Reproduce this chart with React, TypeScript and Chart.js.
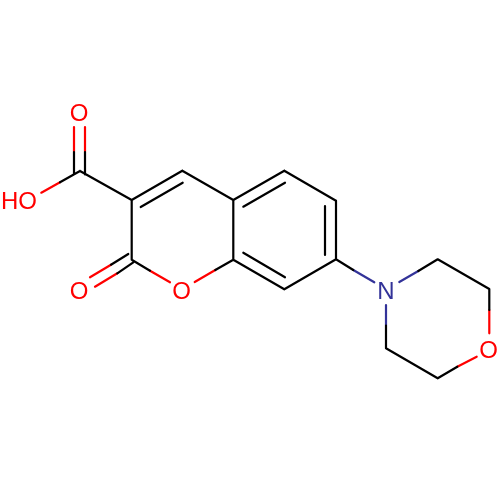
import { useEffect, useRef } from 'react';
import { Chart, registerables } from 'chart.js';
import type { Plugin } from 'chart.js';

Chart.register(...registerables);

// bonds as [x1, y1, x2, y2], split by the colour of each half
const blackBonds = [
  [74, 174.5, 74, 152], [85, 174.5, 85, 152],
  [80, 171, 60, 182.3], [80, 171, 131.7, 200],
  [131.7, 200, 182.3, 170.7], [140.7, 207, 182.7, 182.7],
  [182.3, 170.7, 233.3, 200], [131.7, 200, 131.7, 259.7],
  [128.3, 254, 111, 264.7], [133.3, 262.3, 117.3, 273.3],
  [131.7, 259.7, 150, 270.7], [215.3, 270, 233.3, 259.7],
  [233.3, 200, 233.3, 259.7],
  [233.3, 200, 284.3, 170.7], [243.3, 206.7, 285, 182.7],
  [284.3, 170.7, 336, 200.7],
  [336, 200.7, 336, 259.3], [325, 206, 325, 255],
  [336, 259.3, 284.3, 289.3],
  [284.3, 289.3, 233.3, 259.7], [285, 277.3, 243.3, 252.7],
  [336, 259.3, 353.3, 270],
  [418.3, 271, 437.7, 259.3], [437.7, 259.3, 489.3, 289], [489.3, 289, 489.3, 310],
  [457.3, 366.7, 437.7, 378.3], [437.7, 378.3, 386, 348.3], [386, 348.3, 386, 325.7],
];
const redBonds = [
  [74, 152, 74, 127], [85, 152, 85, 127],
  [60, 182.3, 41.3, 192.7],
  [111, 264.7, 90, 277.3], [117.3, 273.3, 95, 286.7],
  [150, 270.7, 170, 282.3], [194.7, 282, 215.3, 270],
  [489.3, 310, 489.3, 333.3], [476.7, 356.7, 457.3, 366.7],
];
const blueBonds = [
  [353.3, 270, 374.3, 282.3], [399.3, 282, 418.3, 271], [386, 325.7, 386, 305],
];

const atomLabels = ['O', 'HO', 'O', 'O', 'N', 'O'];
const atomX = [79, 19, 79, 181.7, 386, 488.7];
const atomY = [112.7, 200.7, 290, 290, 290, 349];
const atomColors = ['#ff0000', '#ff0000', '#ff0000', '#ff0000', '#333399', '#ff0000'];

const toPoints = (bonds: number[][]) =>
  bonds.flatMap(([x1, y1, x2, y2]) => [
    { x: x1, y: y1 },
    { x: x2, y: y2 },
    { x: x2, y: null },
  ]);

const bondDataset = (bonds: number[][], color: string) => ({
  data: toPoints(bonds),
  showLine: true,
  spanGaps: false,
  borderColor: color,
  borderWidth: 2.2,
  borderCapStyle: 'round' as const,
  pointRadius: 0,
});

// atom symbols are placed through the chart's scales
const atomLabelPlugin: Plugin<'scatter'> = {
  id: 'atomLabels',
  afterDraw(chart) {
    const { ctx, scales } = chart;
    ctx.save();
    ctx.font = '24px "Liberation Sans", sans-serif';
    ctx.textAlign = 'center';
    ctx.textBaseline = 'alphabetic';
    atomLabels.forEach((label, i) => {
      ctx.fillStyle = atomColors[i];
      ctx.fillText(label, scales.x.getPixelForValue(atomX[i]), scales.y.getPixelForValue(atomY[i]) + 8.5);
    });
    ctx.restore();
  },
};

export default function App() {
  const canvasRef = useRef<HTMLCanvasElement>(null);

  useEffect(() => {
    if (!canvasRef.current) return;
    const chart = new Chart(canvasRef.current, {
      type: 'scatter',
      data: {
        datasets: [
          bondDataset(blackBonds, '#000000'),
          bondDataset(redBonds, '#ff0000'),
          bondDataset(blueBonds, '#333399'),
        ],
      },
      options: {
        responsive: false,
        animation: false,
        layout: { padding: 0 },
        plugins: { legend: { display: false }, tooltip: { enabled: false } },
        scales: {
          x: { type: 'linear', display: false, min: 0, max: 500 },
          y: { type: 'linear', display: false, min: 0, max: 500, reverse: true },
        },
      },
      plugins: [atomLabelPlugin],
    });
    return () => chart.destroy();
  }, []);

  return (
    <div style={{ position: 'fixed', left: 0, top: 0, width: 500, height: 500, background: '#fff' }}>
      <canvas ref={canvasRef} width={500} height={500} />
    </div>
  );
}
